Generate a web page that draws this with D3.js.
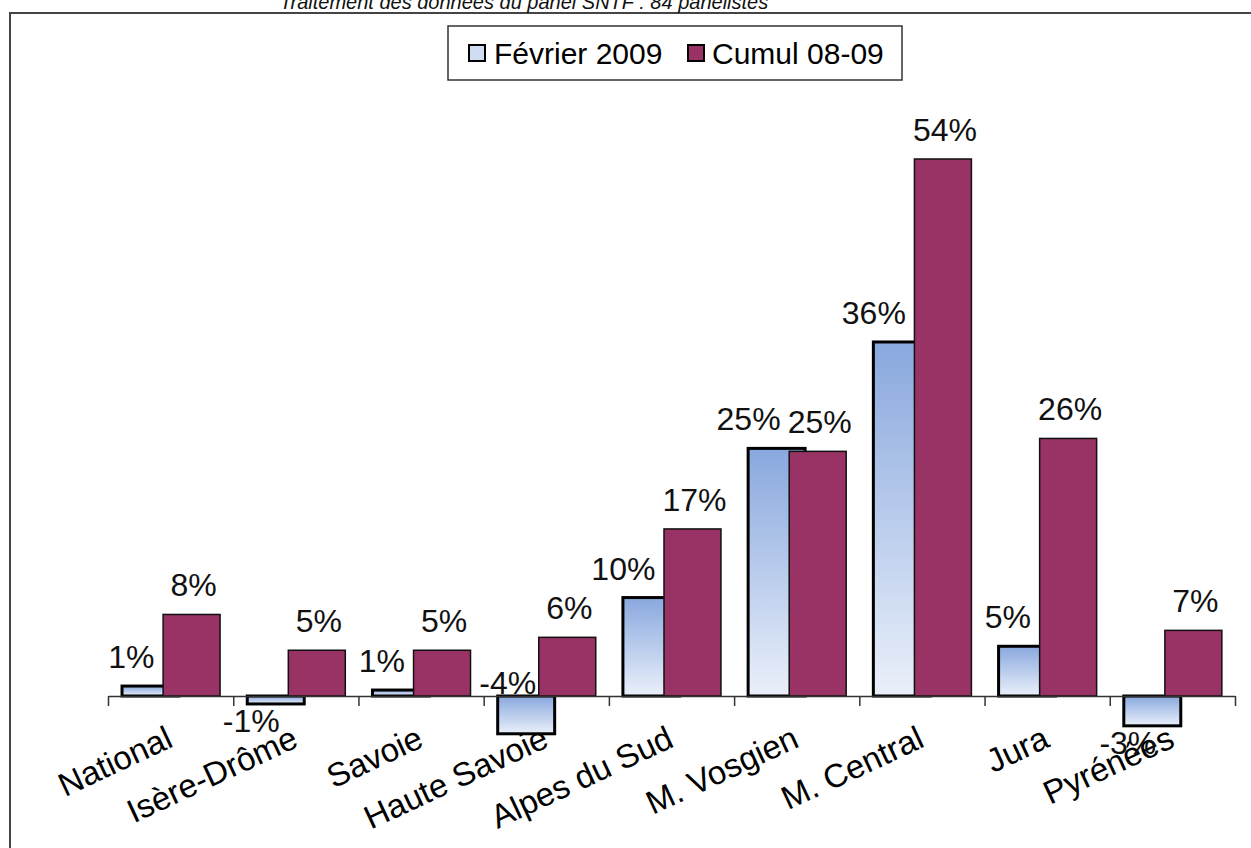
<!DOCTYPE html>
<html>
<head>
<meta charset="utf-8">
<script src="https://cdn.jsdelivr.net/npm/d3@7"></script>
<style>
  html, body { margin: 0; padding: 0; background: #ffffff; }
  svg { display: block; font-family: Arial, "Liberation Sans", sans-serif; }
</style>
</head>
<body>
<svg id="chart" width="1251" height="848"></svg>
<script>
const categories = ["National", "Isère-Drôme", "Savoie", "Haute Savoie", "Alpes du Sud", "M. Vosgien", "M. Central", "Jura", "Pyrénées"];
const fevrier2009 = [1.0, -0.8, 0.6, -3.8, 9.9, 24.9, 35.6, 5.0, -3.0];
const cumul0809 = [8.2, 4.6, 4.6, 5.9, 16.8, 24.6, 54.0, 25.9, 6.6];
const seriesNames = ["Février 2009", "Cumul 08-09"];
const titleText = "Traitement des données du panel SNTF : 84 panélistes";

const svg = d3.select("#chart");
const W = 1251, H = 848;

// outer chart border
svg.append("rect")
  .attr("x", 10).attr("y", 13)
  .attr("width", W + 20).attr("height", H + 20)
  .attr("fill", "#ffffff")
  .attr("stroke", "#444444").attr("stroke-width", 2);

// title (partially cut at top, as in the original)
svg.append("text")
  .attr("x", 524).attr("y", 9)
  .attr("text-anchor", "middle")
  .attr("font-size", 20).attr("font-style", "italic")
  .attr("fill", "#111")
  .text(titleText);

const defs = svg.append("defs");
const grad = defs.append("linearGradient")
  .attr("id", "blueGrad").attr("x1", 0).attr("y1", 0).attr("x2", 0).attr("y2", 1);
grad.append("stop").attr("offset", "0%").attr("stop-color", "#89a8de");
grad.append("stop").attr("offset", "100%").attr("stop-color", "#eaf0fa");

const x = d3.scaleBand().domain(categories).range([108, 1235]).paddingInner(0).paddingOuter(0);
const bw = x.bandwidth();
// series offsets inside a band (bars overlap)
const sx = d3.scaleOrdinal().domain(seriesNames).range([bw * 0.112, bw * 0.44]);
const barW = bw * 0.455;

const y = d3.scaleLinear().domain([0, 54]).range([696, 159]);

const fmt = v => Math.round(v) + "%";

// blue bars
svg.append("g").selectAll("rect")
  .data(categories.map((c, i) => ({c, v: fevrier2009[i]})))
  .join("rect")
  .attr("x", d => x(d.c) + sx(seriesNames[0]))
  .attr("width", barW)
  .attr("y", d => Math.min(y(d.v), y(0)))
  .attr("height", d => Math.abs(y(d.v) - y(0)))
  .attr("fill", "url(#blueGrad)")
  .attr("stroke", "#000").attr("stroke-width", 3);

// red bars
svg.append("g").selectAll("rect")
  .data(categories.map((c, i) => ({c, v: cumul0809[i]})))
  .join("rect")
  .attr("x", d => x(d.c) + sx(seriesNames[1]))
  .attr("width", barW)
  .attr("y", d => Math.min(y(d.v), y(0)))
  .attr("height", d => Math.abs(y(d.v) - y(0)))
  .attr("fill", "#993366")
  .attr("stroke", "#111").attr("stroke-width", 1.5);

// axis
const xi = d3.scaleLinear().domain([0, categories.length]).range([108, 1235]);
const axis = svg.append("g")
  .attr("transform", "translate(0,696)")
  .call(d3.axisBottom(xi).tickValues(d3.range(categories.length + 1)).tickFormat("").tickSize(10).tickSizeOuter(0));
axis.select(".domain").attr("stroke", "#333").attr("stroke-width", 1.5);
axis.selectAll(".tick line").attr("stroke", "#333").attr("stroke-width", 1.5);

// category labels (rotated)
svg.append("g").selectAll("text")
  .data(categories)
  .join("text")
  .attr("transform", d => `translate(${x(d) + bw / 2 + 4},746) rotate(-25)`)
  .attr("text-anchor", "end")
  .attr("font-size", 33)
  .attr("fill", "#000")
  .text(d => d);

// value labels
const lblFS = 32;
const negY = v => {
  const b = y(v) + 28;
  return b > 756 ? y(0) - 2 : b;   // avoid the category labels: lift above the axis
};
svg.append("g").selectAll("text")
  .data(categories.map((c, i) => ({c, v: fevrier2009[i]})))
  .join("text")
  .attr("x", d => x(d.c) + sx(seriesNames[0]) + barW / 2 + (d.v < 0 && y(d.v) + 28 > 756 ? 10 : 4))
  .attr("y", d => d.v >= 0 ? y(d.v) - 18 : negY(d.v))
  .attr("text-anchor", "end")
  .attr("font-size", lblFS).attr("fill", "#111")
  .text(d => fmt(d.v));

svg.append("g").selectAll("text")
  .data(categories.map((c, i) => ({c, v: cumul0809[i]})))
  .join("text")
  .attr("x", d => x(d.c) + sx(seriesNames[1]) + barW / 2 + 2)
  .attr("y", d => d.v >= 0 ? y(d.v) - 18 : y(d.v) + 28)
  .attr("text-anchor", "middle")
  .attr("font-size", lblFS).attr("fill", "#111")
  .text(d => fmt(d.v));

// legend
const lg = svg.append("g");
lg.append("rect").attr("x", 448).attr("y", 26).attr("width", 454).attr("height", 54)
  .attr("fill", "#fff").attr("stroke", "#333").attr("stroke-width", 1.5);
const legendItems = [
  {name: seriesNames[0], sq: 469, tx: 494, fill: "#cfdcf2"},
  {name: seriesNames[1], sq: 688, tx: 712, fill: "#993366"}
];
lg.selectAll("rect.sw").data(legendItems).join("rect").attr("class", "sw")
  .attr("x", d => d.sq).attr("y", 45).attr("width", 16).attr("height", 16)
  .attr("fill", d => d.fill).attr("stroke", "#000").attr("stroke-width", 2);
lg.selectAll("text").data(legendItems).join("text")
  .attr("x", d => d.tx).attr("y", 64)
  .attr("font-size", 30).attr("fill", "#000")
  .text(d => d.name);
</script>
</body>
</html>
